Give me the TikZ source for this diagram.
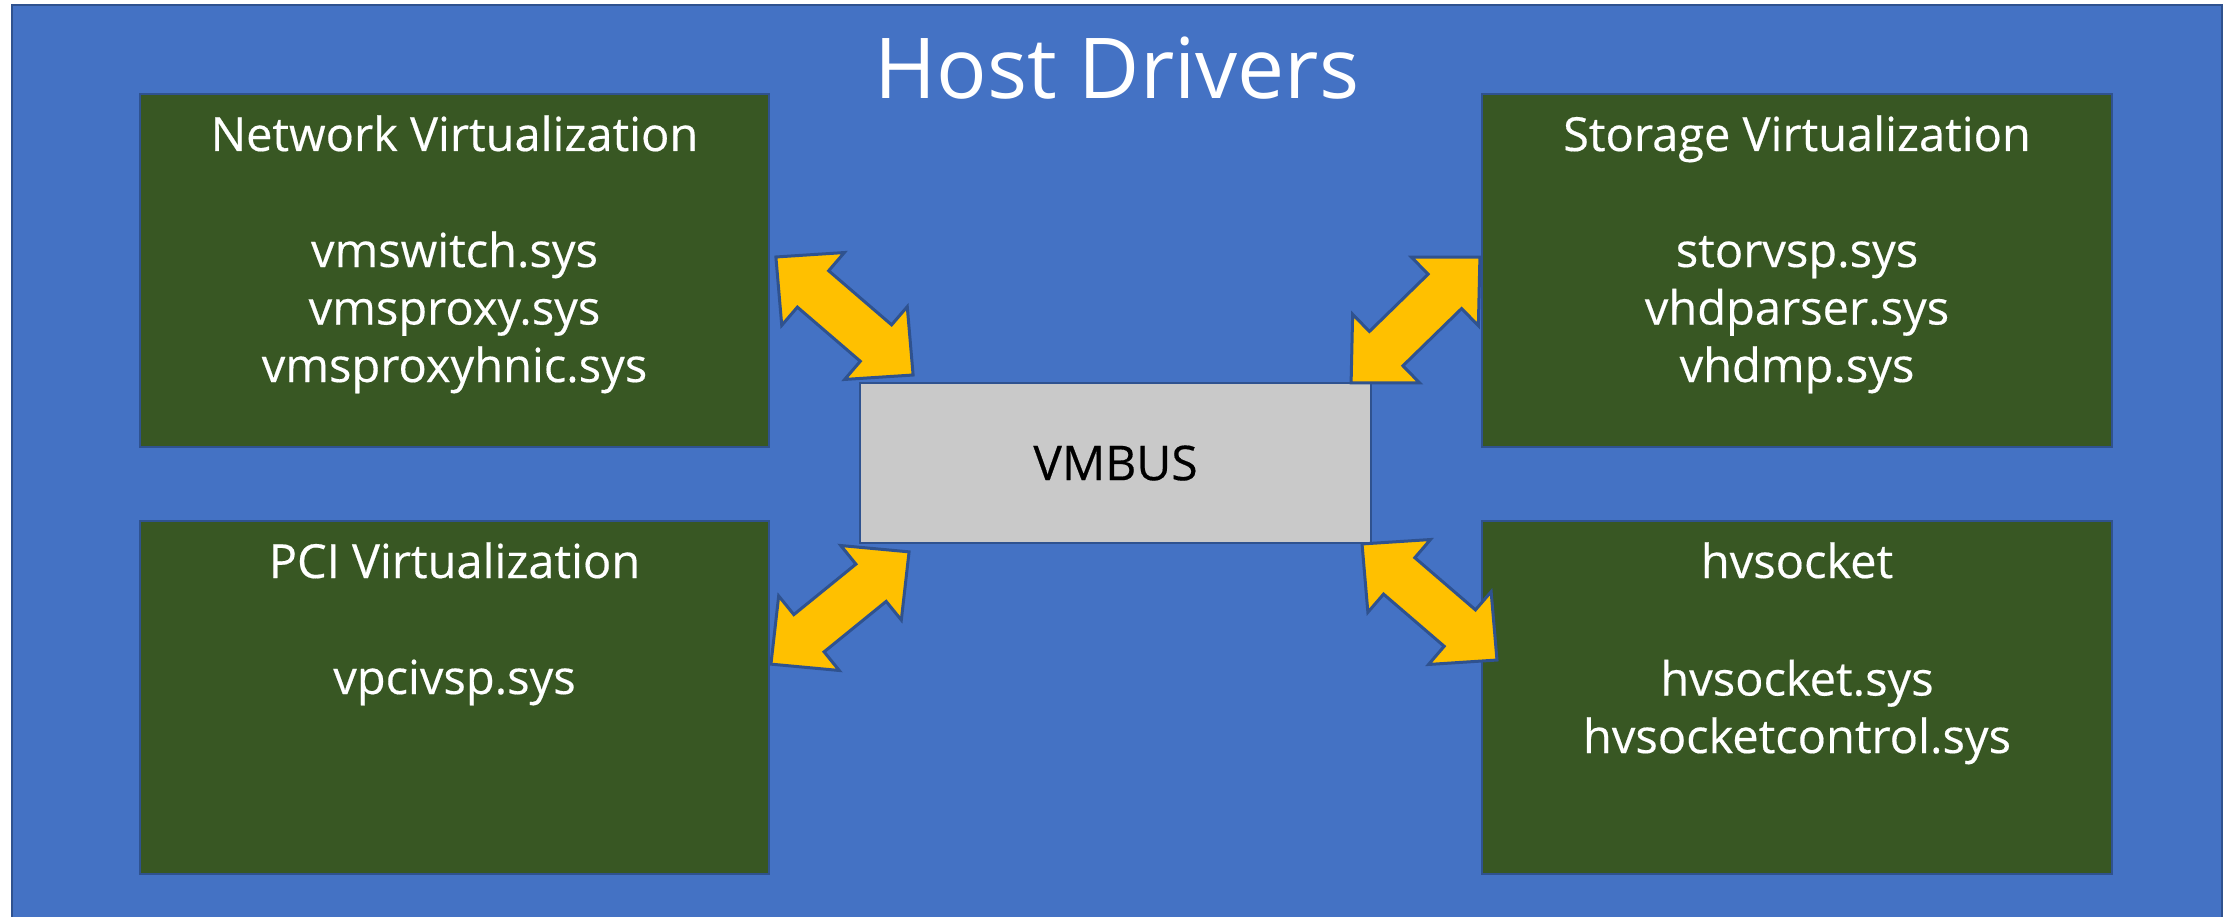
\documentclass[tikz,border=0pt]{standalone}
\usepackage{fontspec}
\setmainfont{Open Sans}
\newfontfamily\paneltext{Open Sans}[FakeBold=0.35]
\definecolor{hostblue}{HTML}{4472C4}
\definecolor{edgeblue}{HTML}{2F528F}
\definecolor{drvgreen}{HTML}{385723}
\definecolor{busgray}{HTML}{C9C9C9}
\definecolor{linkgold}{HTML}{FFC000}

\begin{document}
\begin{tikzpicture}[x=1pt,y=-1pt,
  panel/.style={draw=edgeblue, line width=2pt, fill=drvgreen, inner sep=0pt,
    outer sep=0pt, anchor=north west},
  busbox/.style={draw=edgeblue, line width=2pt, fill=busgray, inner sep=0pt,
    outer sep=0pt, anchor=north west},
  paneltitle/.style={text=white, inner sep=0pt, anchor=base,
    font=\paneltext\fontsize{47}{57.5}\selectfont},
  panelfiles/.style={text=white, inner sep=0pt, anchor=base, align=center,
    font=\paneltext\fontsize{47}{57.5}\selectfont},
  pics/dblarrow/.style={code={
    \draw[draw=edgeblue, line width=3pt, fill=linkgold, line join=miter]
      (-#1/2,0) -- (-#1/2+49,48) -- (-#1/2+49,24) -- (#1/2-49,24)
      -- (#1/2-49,48) -- (#1/2,0) -- (#1/2-49,-48) -- (#1/2-49,-24)
      -- (-#1/2+49,-24) -- (-#1/2+49,-48) -- cycle;
  }}]
\useasboundingbox (0,0) rectangle (2233,917);
\fill[white] (0,0) rectangle (2233,917);

% host frame
\draw[fill=hostblue, draw=edgeblue, line width=2.5pt] (12,5) rectangle (2222,935);
\coordinate (hosttop) at (1117,99);
\node[text=white, inner sep=0pt, anchor=base, font=\fontsize{84}{110}\selectfont]
  (host) at (hosttop) {Host Drivers};

% driver panels
\node[panel, minimum width=629pt, minimum height=353pt] (net) at (140,94) {};
\node[panel, minimum width=630pt, minimum height=353pt] (stor) at (1482,94) {};
\node[panel, minimum width=629pt, minimum height=353pt] (pci) at (140,521) {};
\node[panel, minimum width=630pt, minimum height=353pt] (hvs) at (1482,521) {};

% bus in the middle
\node[busbox, minimum width=511pt, minimum height=160pt] (bus) at (860,383) {};
\node[inner sep=0pt, font=\paneltext\fontsize{48}{64}\selectfont] (busname)
  at (bus.center) {VMBUS};

% panel texts (a multi-line node sits on the baseline of its last line)
\node[paneltitle] (net-t) at ([yshift=-57pt]net.north) {Network Virtualization};
\node[panelfiles] (net-f) at ([yshift=-288pt]net.north)
  {vmswitch.sys\\vmsproxy.sys\\vmsproxyhnic.sys};
\node[paneltitle] (stor-t) at ([yshift=-57pt]stor.north) {Storage Virtualization};
\node[panelfiles] (stor-f) at ([yshift=-288pt]stor.north)
  {storvsp.sys\\vhdparser.sys\\vhdmp.sys};
\node[paneltitle] (pci-t) at ([yshift=-57pt]pci.north) {PCI Virtualization};
\node[panelfiles] (pci-f) at ([yshift=-173pt]pci.north) {vpcivsp.sys};
\node[paneltitle] (hvs-t) at ([yshift=-57pt]hvs.north) {hvsocket};
\node[panelfiles] (hvs-f) at ([yshift=-232pt]hvs.north)
  {hvsocket.sys\\hvsocketcontrol.sys};

% two-way links between the panels and the bus
\pic[rotate=-40.7] at (844.5,316) {dblarrow=181};
\pic[rotate=44.3] at (1415.5,320) {dblarrow=180};
\pic[rotate=39.1] at (840,608) {dblarrow=178};
\pic[rotate=-40.7] at (1429.5,602) {dblarrow=178};
\end{tikzpicture}
\end{document}
